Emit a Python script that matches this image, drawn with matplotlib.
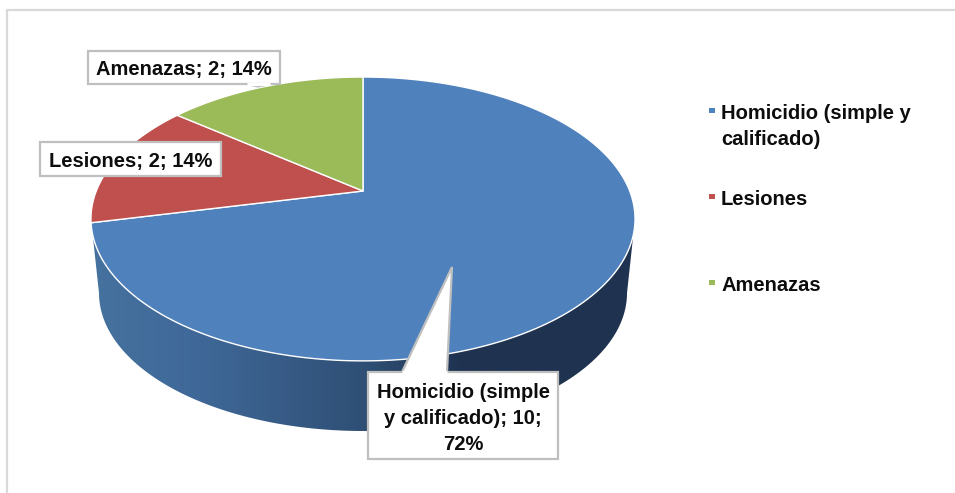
import numpy as np
import matplotlib
matplotlib.use('Agg')
import matplotlib.pyplot as plt
from matplotlib.colors import LinearSegmentedColormap
from matplotlib.patches import Polygon, Rectangle

plt.rcParams['font.family'] = ['Liberation Sans', 'DejaVu Sans']

categories = ['Homicidio (simple y calificado)', 'Lesiones', 'Amenazas']
values = [10, 2, 2]
percents = [72, 14, 14]
legend_labels = ['Homicidio (simple y\ncalificado)', 'Lesiones', 'Amenazas']
colors = ['#4f81bd', '#c0504d', '#9bbb59']

fig = plt.figure(figsize=(9.55, 4.93), dpi=100)
ax = fig.add_axes([0, 0, 1, 1])
ax.set_xlim(0, 955)
ax.set_ylim(493, 0)
ax.axis('off')

# outer frame, only left and top show in the picture
ax.plot([7, 7, 955], [493, 10, 10], color='#d9d9d9', lw=1.6, zorder=1)


# tilted circle -> screen, vertex of the pie is not the ellipse centre
def project(t, cx=363, cy=191, r=266.7, a=-98.8, c=0.197):
    u, v = np.sin(t), np.cos(t)
    d = 1 + c * v
    return cx + r * u / d, (a * v + cy) / d


# side wall (only the front is visible), starts at the widest point of the top
t_start = np.arccos(-0.197)
t_front = np.linspace(t_start, 2 * np.pi - t_start, 200)
tx, ty = project(t_front)
t_low = np.linspace(np.pi / 2, np.pi * 1.5, 200)
low_x = 363 + 264 * np.sin(t_low)
low_y = 293 - 138 * np.cos(t_low)
wall = Polygon(np.r_[np.c_[tx, ty], np.c_[low_x, low_y][::-1]], closed=True,
               fc='none', ec='none', transform=ax.transData)
ax.add_patch(wall)
wall_cmap = LinearSegmentedColormap.from_list(
    'wall', [(0, '#46729f'), (0.2, '#3f6898'), (0.5, '#2f4f75'),
             (0.68, '#1f3350'), (1, '#1f3350')])
img = ax.imshow(np.linspace(0, 1, 256).reshape(1, -1), cmap=wall_cmap,
                extent=[91, 635, 493, 0], aspect='auto', zorder=2)
img.set_clip_path(wall)
ax.set_xlim(0, 955)
ax.set_ylim(493, 0)

# top face, clockwise from 12 o'clock
angles = np.r_[0, np.cumsum(values)] / sum(values) * 2 * np.pi
for i in range(len(values)):
    t = np.linspace(angles[i], angles[i + 1], 200)
    x, y = project(t)
    pts = np.c_[np.r_[363, x], np.r_[191, y]]
    ax.add_patch(Polygon(pts, closed=True, fc=colors[i], ec='white', lw=1.0,
                         joinstyle='round', zorder=3))

# data labels
box_style = dict(fc='white', ec='#bfbfbf', lw=1.6, zorder=5)
txt_style = dict(fontsize=14.5, fontweight='bold', color='#0d0d0d',
                 ha='center', va='center', zorder=6)


def label_box(x0, y0, x1, y1, text, tail=None, dy=2):
    ax.add_patch(Rectangle((x0, y0), x1 - x0, y1 - y0, **box_style))
    if tail is not None:
        ax.add_patch(Polygon(tail, closed=False, fc='white', ec='#bfbfbf', lw=1.6,
                             zorder=5))
        # hide the box edge under the tail
        ax.plot([tail[0][0], tail[-1][0]], [tail[0][1], tail[-1][1]],
                color='white', lw=2.2, zorder=5.5, solid_capstyle='butt')
    ax.text((x0 + x1) / 2, (y0 + y1) / 2 + dy, text, linespacing=1.45, **txt_style)


label_box(368, 372, 558, 459,
          'Homicidio (simple\ny calificado); %d;\n%d%%' % (values[0], percents[0]),
          [(402, 372), (452, 267), (447, 372)], dy=3)
label_box(40, 142, 221, 176, '%s; %d; %d%%' % (categories[1], values[1], percents[1]))
label_box(88, 51, 280, 84, '%s; %d; %d%%' % (categories[2], values[2], percents[2]),
          [(247, 84), (258, 86.5), (270, 84)])

# legend
legend_y = [110, 196, 282]
for i, lab in enumerate(legend_labels):
    ax.add_patch(Rectangle((709, legend_y[i] - 2.5), 5.5, 5.5, fc=colors[i], ec='none'))
    ax.text(721, legend_y[i] - 6, lab, fontsize=14.5, fontweight='bold', color='#0d0d0d',
            ha='left', va='top', linespacing=1.45)

fig.savefig('out.png', dpi=100, facecolor='white')
